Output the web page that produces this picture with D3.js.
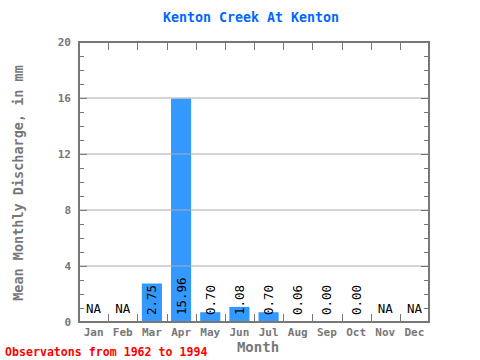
<!DOCTYPE html>
<html><head><meta charset="utf-8">
<script src="https://cdn.jsdelivr.net/npm/d3@7"></script>
<style>body{margin:0;background:#fff}svg{display:block}</style>
</head><body>
<svg id="c" width="480" height="360"></svg>
<script>
const months = ["Jan","Feb","Mar","Apr","May","Jun","Jul","Aug","Sep","Oct","Nov","Dec"];
const values = [null,null,2.75,15.96,0.70,1.08,0.70,0.06,0.00,0.00,null,null];
const yTicks = [0,4,8,12,16,20];
const title = "Kenton Creek At Kenton";
const xTitle = "Month";
const yTitle = "Mean Monthly Discharge, in mm";
const footer = "Observatons from 1962 to 1994";

const svg = d3.select("#c");
const L=79,R=429,T=42,B=322;
const font = "'DejaVu Sans Mono', monospace";
const x = d3.scaleBand().domain(months).range([L,R]).paddingInner(0.31).paddingOuter(0.155);
const xb = d3.scaleLinear().domain([0,12]).range([L,R]);
const y = d3.scaleLinear().domain([0,20]).range([B,T]);
const gray="#777";

svg.selectAll("rect.bar").data(values.map((v,i)=>({v,m:months[i]})).filter(d=>d.v!==null))
  .enter().append("rect").attr("fill","#3399ff")
  .attr("x",d=>x(d.m)).attr("width",x.bandwidth())
  .attr("y",d=>y(d.v)).attr("height",d=>B-y(d.v));

svg.selectAll("line.grid").data(yTicks.filter(t=>t>0&&t<20)).enter().append("line")
  .attr("x1",L).attr("x2",R).attr("y1",d=>y(d)).attr("y2",d=>y(d))
  .attr("stroke","#aaa").attr("stroke-width",1);

const minor = d3.range(1,20);
svg.selectAll("line.ml").data(minor).enter().append("line")
  .attr("x1",L).attr("x2",d=>L+(d%4===0?8:5)).attr("y1",d=>Math.round(y(d))+0.5).attr("y2",d=>Math.round(y(d))+0.5)
  .attr("stroke",gray).attr("stroke-width",1);
svg.selectAll("line.mr").data(minor).enter().append("line")
  .attr("x1",R).attr("x2",d=>R-(d%4===0?8:5)).attr("y1",d=>Math.round(y(d))+0.5).attr("y2",d=>Math.round(y(d))+0.5)
  .attr("stroke",gray).attr("stroke-width",1);
const cb = d3.range(1,12);
svg.selectAll("line.tt").data(cb).enter().append("line")
  .attr("x1",d=>Math.round(xb(d))+0.5).attr("x2",d=>Math.round(xb(d))+0.5).attr("y1",T).attr("y2",T+8)
  .attr("stroke",gray).attr("stroke-width",1);
svg.selectAll("line.tb").data(cb).enter().append("line")
  .attr("x1",d=>Math.round(xb(d))+0.5).attr("x2",d=>Math.round(xb(d))+0.5).attr("y1",B).attr("y2",B-8)
  .attr("stroke",gray).attr("stroke-width",1);

svg.append("rect").attr("x",L).attr("y",T).attr("width",R-L).attr("height",B-T)
  .attr("fill","none").attr("stroke",gray).attr("stroke-width",2);

svg.selectAll("text.yt").data(yTicks).enter().append("text")
  .attr("x",L-8).attr("y",d=>y(d)+4).attr("text-anchor","end")
  .attr("font-family",font).attr("font-weight","bold").attr("font-size",11).attr("fill",gray)
  .text(d=>d);
svg.selectAll("text.xt").data(months).enter().append("text")
  .attr("x",d=>x(d)+x.bandwidth()/2).attr("y",336).attr("text-anchor","middle")
  .attr("font-family",font).attr("font-weight","bold").attr("font-size",11).attr("fill",gray)
  .text(d=>d);

values.forEach((v,i)=>{
  const cx = x(months[i])+x.bandwidth()/2;
  if(v===null){
    svg.append("text").attr("x",cx).attr("y",B-9).attr("text-anchor","middle")
      .attr("font-family",font).attr("font-size",12.5).attr("fill","#000").text("NA");
  } else {
    svg.append("text").attr("transform",`translate(${cx+4.5},${B-7}) rotate(-90)`)
      .attr("text-anchor","start")
      .attr("font-family",font).attr("font-size",12.5).attr("fill","#000").text(v.toFixed(2));
  }
});

svg.append("text").attr("x",251).attr("y",22).attr("text-anchor","middle")
  .attr("font-family",font).attr("font-weight","bold").attr("font-size",13.3).attr("fill","#0066ff").text(title);
svg.append("text").attr("x",258).attr("y",352).attr("text-anchor","middle")
  .attr("font-family",font).attr("font-weight","bold").attr("font-size",14).attr("fill",gray).text(xTitle);
svg.append("text").attr("transform","translate(23,183) rotate(-90)").attr("text-anchor","middle")
  .attr("font-family",font).attr("font-weight","bold").attr("font-size",13.5).attr("fill",gray).text(yTitle);
svg.append("text").attr("x",5).attr("y",356)
  .attr("font-family",font).attr("font-weight","bold").attr("font-size",11.6).attr("fill","#ff0000").text(footer);
</script>
</body></html>
